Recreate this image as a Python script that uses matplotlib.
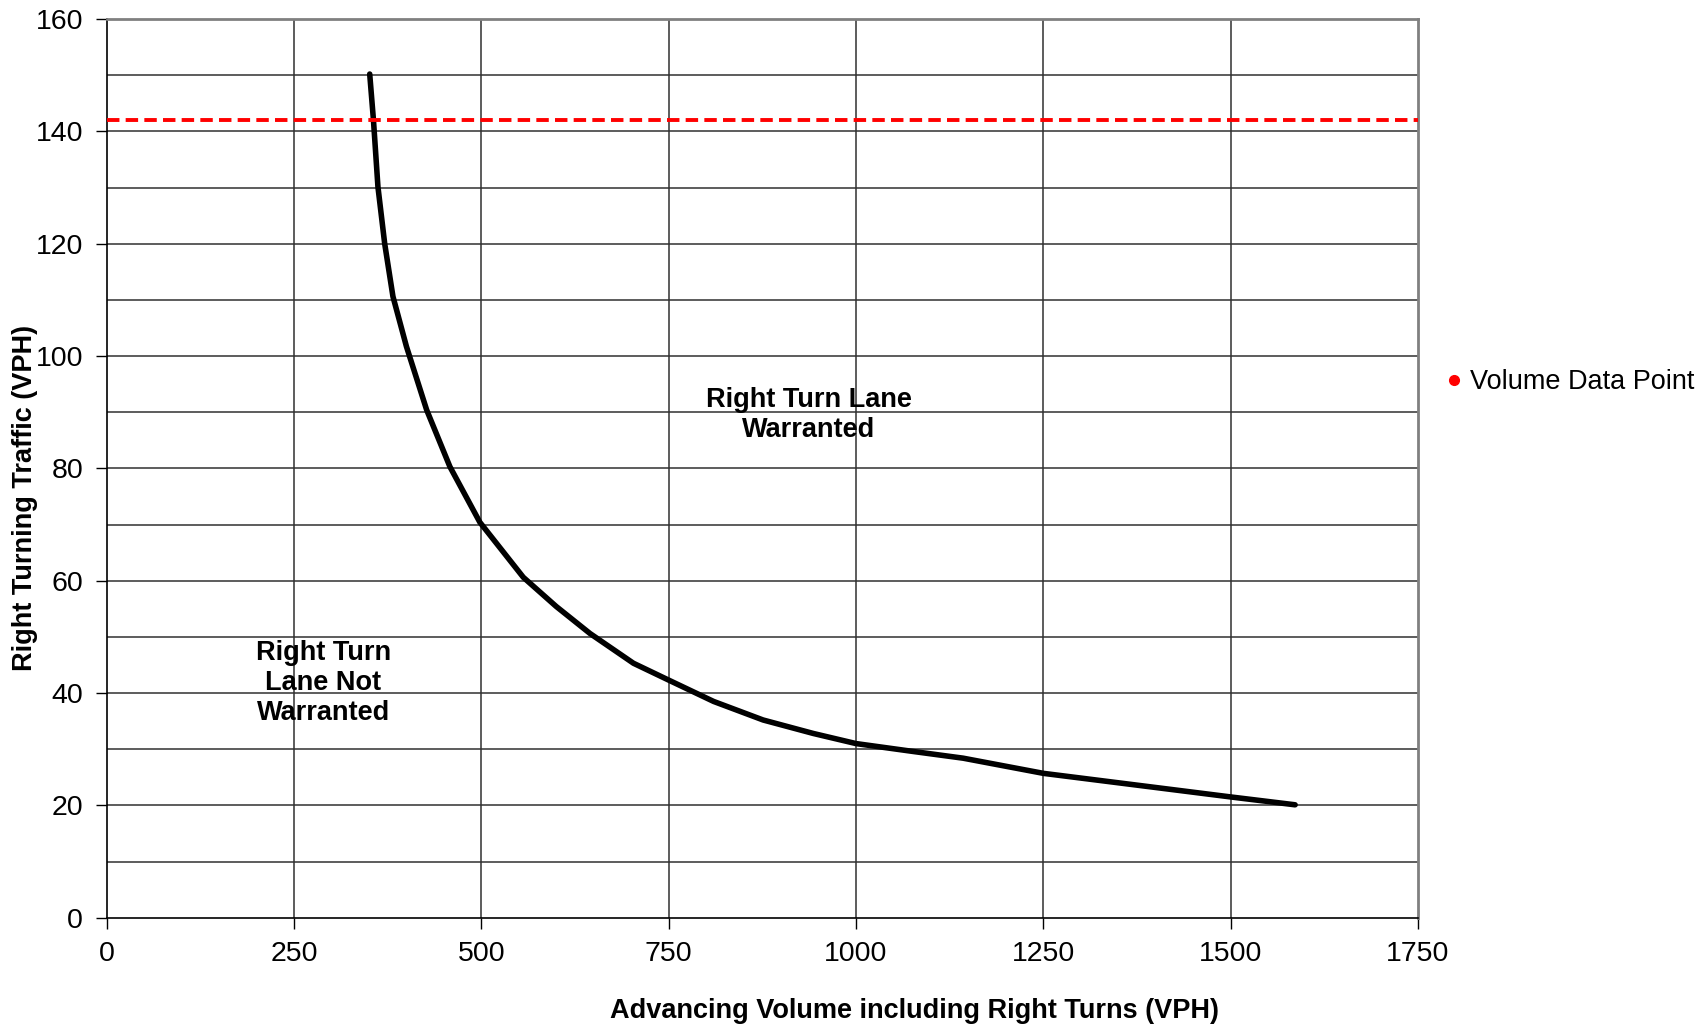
import matplotlib
matplotlib.use("Agg")
import matplotlib.pyplot as plt
from matplotlib.lines import Line2D

plt.rcParams['font.family'] = ['Liberation Sans', 'DejaVu Sans']

# Warrant curve (advancing volume vs right turning traffic)
adv_volume = [351, 356, 362, 371, 382, 400, 427, 458, 498, 556, 600, 645, 703, 750,
              810, 876, 943, 1000, 1076, 1143, 1250, 1500, 1586]
right_turns = [150.2, 142.0, 130.1, 120.0, 110.6, 101.7, 90.4, 80.3, 70.4, 60.6, 55.4, 50.6,
               45.3, 42.3, 38.5, 35.2, 32.8, 31.0, 29.6, 28.4, 25.7, 21.5, 20.1]
volume_level = 142
x_ticks = [0, 250, 500, 750, 1000, 1250, 1500, 1750]
y_ticks = [0, 20, 40, 60, 80, 100, 120, 140, 160]
y_grid = [10, 30, 50, 70, 90, 110, 130, 150]

fig = plt.figure(figsize=(17.08, 10.29), dpi=100)
ax = fig.add_axes([106.7/1708, 1-917.7/1029, (1418-106.7)/1708, (917.7-19)/1029])
ax.set_xlim(0, 1750)
ax.set_ylim(0, 160)

for v in x_ticks[1:-1]:
    ax.axvline(v, color='#303030', lw=1.1, zorder=1)
for v in y_ticks[1:-1] + y_grid:
    ax.axhline(v, color='#303030', lw=1.1, zorder=1)

ax.plot(adv_volume, right_turns, color='black', lw=4.0, solid_capstyle='round',
        solid_joinstyle='round', zorder=3)
ax.axhline(volume_level, color='red', lw=2.8, ls=(0, (3.2, 1.6)), zorder=4)

ax.set_xticks(x_ticks)
ax.set_yticks(y_ticks)
ax.tick_params(axis='both', direction='out', length=8, width=1, labelsize=20.5, color='black')
ax.tick_params(axis='y', pad=9)
ax.tick_params(axis='x', pad=9)

ax.spines['left'].set_color('black')
ax.spines['bottom'].set_color('black')
ax.spines['left'].set_linewidth(1.2)
ax.spines['bottom'].set_linewidth(1.2)
ax.spines['top'].set_color('#808080')
ax.spines['right'].set_color('#808080')
ax.spines['top'].set_linewidth(2)
ax.spines['right'].set_linewidth(2)

ax.text(937, 89.5, "Right Turn Lane\nWarranted", ha='center', va='center',
        fontsize=19.5, fontweight='bold', linespacing=1.2)
ax.text(289, 41.7, "Right Turn\nLane Not\nWarranted", ha='center', va='center',
        fontsize=19.5, fontweight='bold', linespacing=1.2)

fig.text(25/1708, 1-498/1029, "Right Turning Traffic (VPH)", rotation=90,
         ha='center', va='center', fontsize=19.5, fontweight='bold')
fig.text(915/1708, 1-1011/1029, "Advancing Volume including Right Turns (VPH)",
         ha='center', va='center', fontsize=19.5, fontweight='bold')

handle = Line2D([], [], color='red', marker='o', ls='none', markersize=7)
fig.legend([handle], ["Volume Data Point"], loc='center left',
           bbox_to_anchor=(1440/1708, 1-382/1029), frameon=False, fontsize=19.5,
           handletextpad=0.1, borderaxespad=0, borderpad=0, handlelength=1.0)

fig.savefig("out.png", dpi=100)
